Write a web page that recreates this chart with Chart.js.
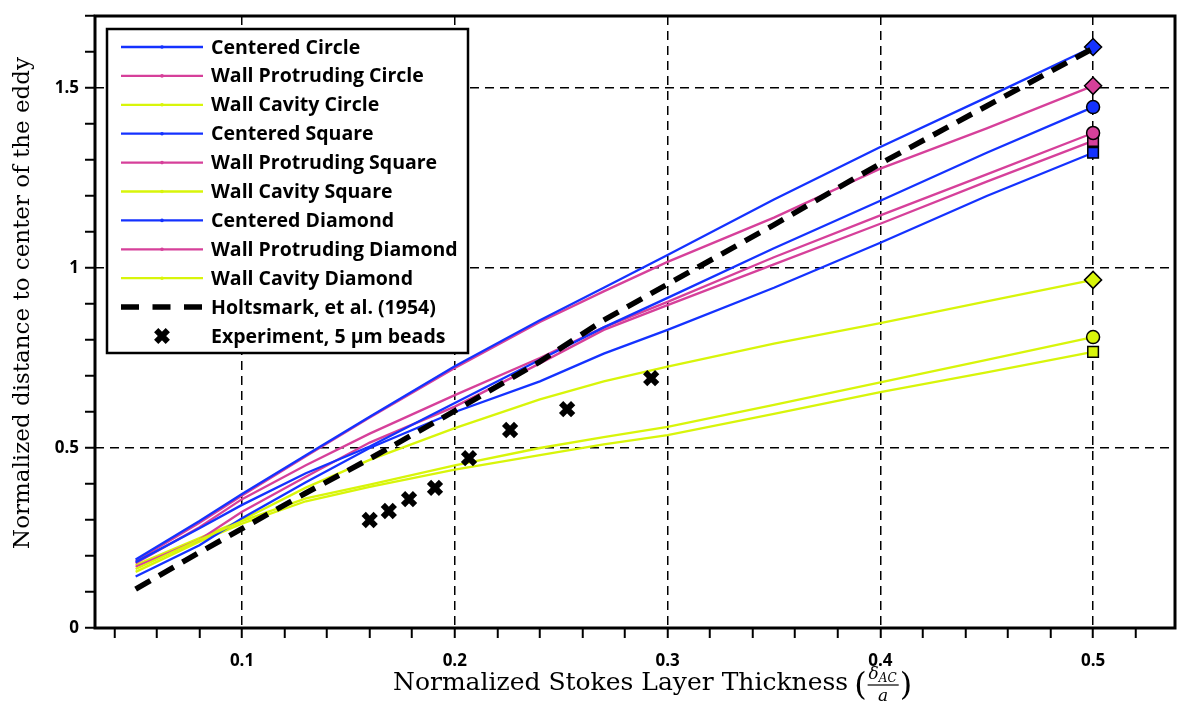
<!DOCTYPE html>
<html>
<head>
<meta charset="utf-8">
<script src="https://cdn.jsdelivr.net/npm/chart.js@4.4.1/dist/chart.umd.min.js"></script>
<style>
  html, body { margin: 0; padding: 0; background: #fff; }
  #wrap { width: 1180px; height: 715px; }
</style>
</head>
<body>
<div id="wrap"><canvas id="eddy" width="1180" height="715"></canvas></div>
<script>
// Stokes layer thickness (delta_AC / a) at which the simulations were sampled
const thickness = [0.05, 0.08, 0.1, 0.13, 0.16, 0.2, 0.24, 0.27, 0.3, 0.35, 0.4, 0.45, 0.5];

// Normalized distance to the eddy center, one list per geometry
const centeredCircle        = [0.183, 0.277, 0.342, 0.43, 0.504, 0.625, 0.745, 0.835, 0.917, 1.055, 1.187, 1.32, 1.447];
const wallProtrudingCircle  = [0.18, 0.28, 0.358, 0.452, 0.54, 0.647, 0.75, 0.835, 0.906, 1.03, 1.146, 1.26, 1.375];
const wallCavityCircle      = [0.164, 0.245, 0.297, 0.36, 0.398, 0.452, 0.5, 0.53, 0.559, 0.62, 0.682, 0.745, 0.808];
const centeredSquare        = [0.143, 0.23, 0.305, 0.405, 0.5, 0.6, 0.685, 0.762, 0.828, 0.945, 1.07, 1.2, 1.32];
const wallProtrudingSquare  = [0.17, 0.245, 0.323, 0.42, 0.515, 0.615, 0.735, 0.828, 0.897, 1.01, 1.123, 1.24, 1.353];
const wallCavitySquare      = [0.156, 0.24, 0.29, 0.352, 0.392, 0.44, 0.48, 0.51, 0.536, 0.595, 0.655, 0.71, 0.767];
const centeredDiamond       = [0.19, 0.297, 0.372, 0.48, 0.587, 0.727, 0.855, 0.945, 1.036, 1.19, 1.336, 1.474, 1.614];
const wallProtrudingDiamond = [0.186, 0.292, 0.368, 0.477, 0.585, 0.722, 0.85, 0.935, 1.017, 1.14, 1.276, 1.388, 1.506];
const wallCavityDiamond     = [0.175, 0.25, 0.3, 0.39, 0.467, 0.555, 0.635, 0.685, 0.726, 0.79, 0.847, 0.907, 0.967];

// Holtsmark et al. (1954) theory on the same thickness grid
const holtsmark = [0.108, 0.21, 0.276, 0.375, 0.47, 0.603, 0.74, 0.855, 0.955, 1.12, 1.29, 1.45, 1.61];

// Measurements with 5 um beads
const expThickness = [0.16, 0.169, 0.1785, 0.1907, 0.2067, 0.226, 0.2528, 0.2923];
const expDistance  = [0.3, 0.325, 0.358, 0.389, 0.472, 0.55, 0.608, 0.694];

const BLUE = '#1432ff';
const PINK = '#d6409a';
const YELLOW = '#d8f50a';

const LABEL_FONT = '"Open Sans", "DejaVu Sans", sans-serif';
const TITLE_FONT = '"DejaVu Serif", "Liberation Serif", serif';

const series = [
  {label: 'Centered Circle', values: centeredCircle, color: BLUE, marker: 'circle', size: 6.5},
  {label: 'Wall Protruding Circle', values: wallProtrudingCircle, color: PINK, marker: 'circle', size: 6.5},
  {label: 'Wall Cavity Circle', values: wallCavityCircle, color: YELLOW, marker: 'circle', size: 6.5},
  {label: 'Centered Square', values: centeredSquare, color: BLUE, marker: 'rect', size: 7.5},
  {label: 'Wall Protruding Square', values: wallProtrudingSquare, color: PINK, marker: 'rect', size: 7.5},
  {label: 'Wall Cavity Square', values: wallCavitySquare, color: YELLOW, marker: 'rect', size: 7.5},
  {label: 'Centered Diamond', values: centeredDiamond, color: BLUE, marker: 'rectRot', size: 8.5},
  {label: 'Wall Protruding Diamond', values: wallProtrudingDiamond, color: PINK, marker: 'rectRot', size: 8.5},
  {label: 'Wall Cavity Diamond', values: wallCavityDiamond, color: YELLOW, marker: 'rectRot', size: 8.5}
];

const last = thickness.length - 1;
const toPoints = (xs, ys) => xs.map((x, i) => ({x, y: ys[i]}));

const datasets = series.map(s => ({
  label: s.label,
  data: toPoints(thickness, s.values),
  borderColor: s.color,
  backgroundColor: s.color,
  borderWidth: 2.3,
  pointStyle: s.marker,
  pointRadius: c => c.dataIndex === last ? s.size : 0,
  pointBackgroundColor: s.color,
  pointBorderColor: '#000',
  pointBorderWidth: 1.5,
  order: 1
}));

datasets.push({
  label: 'Holtsmark, et al. (1954)',
  data: toPoints(thickness, holtsmark),
  borderColor: '#000',
  borderWidth: 5.5,
  borderDash: [17, 10],
  pointRadius: 0,
  order: 0
});

datasets.push({
  label: 'Experiment, 5 \u03bcm beads',
  data: toPoints(expThickness, expDistance),
  showLine: false,
  pointStyle: 'crossRot',
  pointRadius: 8.5,
  pointBorderWidth: 6,
  pointBorderColor: '#000',
  borderColor: '#000',
  order: 0
});

const isMajor = (v, step) => Math.abs(v / step - Math.round(v / step)) < 1e-6;

// legend box, axis titles and the heavy frame round the plot
const decorations = {
  id: 'decorations',
  afterDatasetsDraw(chart) {
    const {ctx, chartArea: a} = chart;
    ctx.save();

    // legend
    const box = {x: 107, y: 29, w: 361, h: 324};
    ctx.fillStyle = '#fff';
    ctx.fillRect(box.x, box.y, box.w, box.h);
    ctx.lineWidth = 2.5;
    ctx.strokeStyle = '#000';
    ctx.strokeRect(box.x, box.y, box.w, box.h);

    ctx.font = '700 19.5px ' + LABEL_FONT;
    ctx.textBaseline = 'middle';
    ctx.textAlign = 'left';
    chart.data.datasets.forEach((ds, i) => {
      const cy = 47 + i * 28.9;
      if (ds.showLine === false) {
        const r = 5.8;
        ctx.lineWidth = 6;
        ctx.strokeStyle = '#000';
        ctx.beginPath();
        ctx.moveTo(162 - r, cy - r); ctx.lineTo(162 + r, cy + r);
        ctx.moveTo(162 - r, cy + r); ctx.lineTo(162 + r, cy - r);
        ctx.stroke();
      } else {
        ctx.lineWidth = ds.borderWidth;
        ctx.strokeStyle = ds.borderColor;
        ctx.setLineDash(ds.borderDash ? [18, 13.5] : []);
        ctx.beginPath();
        ctx.moveTo(121, cy);
        ctx.lineTo(203, cy);
        ctx.stroke();
        ctx.setLineDash([]);
        if (!ds.borderDash) {
          ctx.fillStyle = ds.borderColor;
          ctx.beginPath();
          ctx.arc(162, cy, 1.8, 0, Math.PI * 2);
          ctx.fill();
        }
      }
      ctx.fillStyle = '#000';
      ctx.fillText(ds.label, 211, cy + 1);
    });

    // frame
    ctx.lineWidth = 3;
    ctx.strokeStyle = '#000';
    ctx.strokeRect(a.left, a.top, a.right - a.left, a.bottom - a.top);

    // y title
    ctx.fillStyle = '#000';
    ctx.save();
    ctx.translate(23, 303);
    ctx.rotate(-Math.PI / 2);
    ctx.textAlign = 'center';
    ctx.textBaseline = 'middle';
    ctx.font = '23px ' + TITLE_FONT;
    ctx.fillText('Normalized distance to center of the eddy', 0, 0);
    ctx.restore();

    // x title with the delta_AC / a fraction
    const base = 690;
    ctx.textAlign = 'left';
    ctx.textBaseline = 'alphabetic';
    ctx.font = '25px ' + TITLE_FONT;
    const text = 'Normalized Stokes Layer Thickness';
    const tx = 393;
    ctx.fillText(text, tx, base);
    let px = tx + ctx.measureText(text).width + 6;

    ctx.font = '32px ' + TITLE_FONT;
    ctx.fillText('(', px, base + 5);
    px += ctx.measureText('(').width + 1;

    ctx.font = 'italic 17px ' + TITLE_FONT;
    const dW = ctx.measureText('\u03b4').width;
    ctx.font = 'italic 12px ' + TITLE_FONT;
    const sW = ctx.measureText('AC').width;
    const fracW = dW + sW + 3;
    ctx.font = 'italic 17px ' + TITLE_FONT;
    ctx.fillText('\u03b4', px + 1, base - 11);
    ctx.font = 'italic 12px ' + TITLE_FONT;
    ctx.fillText('AC', px + 1 + dW, base - 8);
    ctx.lineWidth = 1.2;
    ctx.beginPath();
    ctx.moveTo(px, base - 5);
    ctx.lineTo(px + fracW, base - 5);
    ctx.stroke();
    ctx.font = 'italic 17px ' + TITLE_FONT;
    ctx.textAlign = 'center';
    ctx.fillText('a', px + fracW / 2, base + 11);
    ctx.textAlign = 'left';
    px += fracW + 1;
    ctx.font = '32px ' + TITLE_FONT;
    ctx.fillText(')', px, base + 5);

    ctx.restore();
  }
};

const tickFont = {family: LABEL_FONT, size: 17, weight: '700'};

new Chart(document.getElementById('eddy'), {
  type: 'line',
  data: {datasets},
  options: {
    responsive: false,
    animation: false,
    devicePixelRatio: 1,
    layout: {autoPadding: false, padding: {top: 16, right: 5, left: 0, bottom: 0}},
    elements: {line: {tension: 0}},
    plugins: {legend: {display: false}, tooltip: {enabled: false}},
    scales: {
      x: {
        type: 'linear',
        min: 0.0309,
        max: 0.5385,
        afterFit: s => { s.height = 87; s.paddingLeft = 0; s.paddingRight = 0; },
        border: {display: false, dash: [9, 6]},
        grid: {
          color: c => (c.tick && isMajor(c.tick.value, 0.1)) ? '#000' : 'rgba(0,0,0,0)',
          lineWidth: 1.5,
          tickColor: '#000',
          tickLength: 10,
          tickWidth: 2
        },
        ticks: {
          stepSize: 0.02,
          includeBounds: false,
          autoSkip: false,
          maxRotation: 0,
          padding: 13,
          color: '#000',
          font: tickFont,
          callback: v => isMajor(v, 0.1) ? v.toFixed(1) : ''
        }
      },
      y: {
        type: 'linear',
        min: 0,
        max: 1.7,
        afterFit: s => { s.width = 95; s.paddingTop = 0; s.paddingBottom = 0; },
        border: {display: false, dash: [9, 6]},
        grid: {
          color: c => (c.tick && c.tick.value > 0 && isMajor(c.tick.value, 0.5)) ? '#000' : 'rgba(0,0,0,0)',
          lineWidth: 1.5,
          tickColor: '#000',
          tickLength: 10,
          tickWidth: 2
        },
        ticks: {
          stepSize: 0.1,
          includeBounds: false,
          autoSkip: false,
          padding: 6,
          color: '#000',
          font: tickFont,
          callback: v => isMajor(v, 0.5) ? String(Math.round(v * 10) / 10) : ''
        }
      }
    }
  },
  plugins: [decorations]
});
</script>
</body>
</html>
